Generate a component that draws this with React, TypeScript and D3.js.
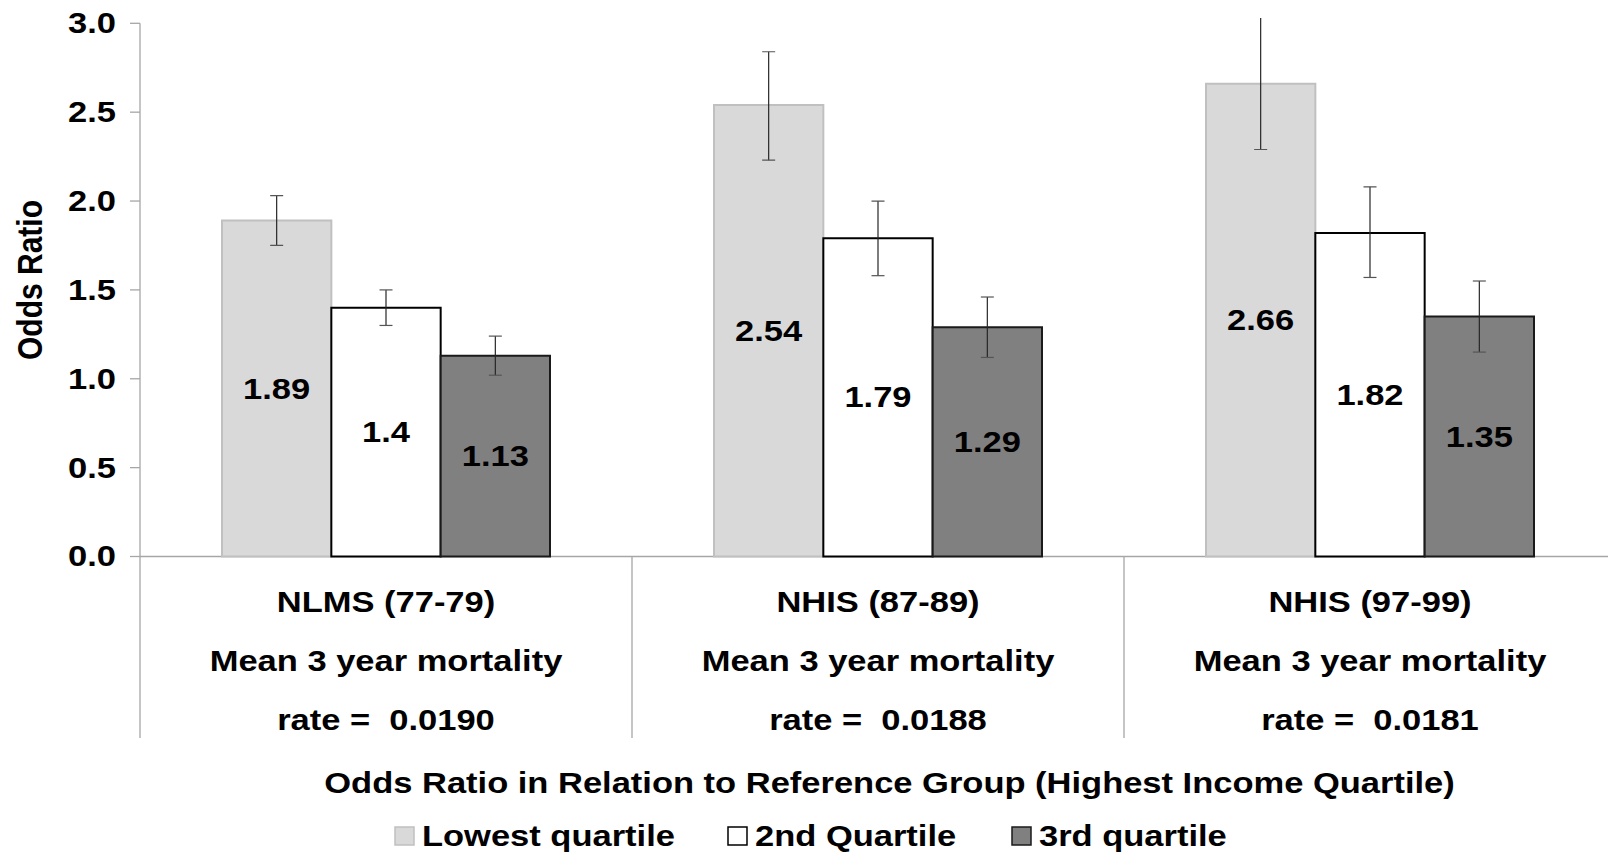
import React from "react";
import * as d3 from "d3";

const categories = ["NLMS (77-79)", "NHIS (87-89)", "NHIS (97-99)"];
const rateLabels = ["rate =  0.0190", "rate =  0.0188", "rate =  0.0181"];
const subLabel = "Mean 3 year mortality";
const seriesNames = ["Lowest quartile", "2nd Quartile", "3rd quartile"];
const lowestValues = [1.89, 2.54, 2.66];
const secondValues = [1.4, 1.79, 1.82];
const thirdValues = [1.13, 1.29, 1.35];
const lowestLo = [1.75, 2.23, 2.29];
const lowestHi = [2.03, 2.84, 3.09];
const secondLo = [1.3, 1.58, 1.57];
const secondHi = [1.5, 2.0, 2.08];
const thirdLo = [1.02, 1.12, 1.15];
const thirdHi = [1.24, 1.46, 1.55];
const yTicks = [0, 0.5, 1, 1.5, 2, 2.5, 3];
const yTitle = "Odds Ratio";
const xTitle = "Odds Ratio in Relation to Reference Group (Highest Income Quartile)";

const fills = ["#d9d9d9", "#ffffff", "#808080"];
const strokes = ["#c0c0c0", "#000000", "#1a1a1a"];

const SX = 1.15;
const W = 1608;
const H = 852;
const FONT = "'Liberation Sans', Arial, sans-serif";
const FS = 30;

export default function App() {
  const vx = (x: number) => x / SX;
  const x0 = vx(140);
  const band = vx(492);
  const yScale = d3.scaleLinear().domain([0, 3]).range([556.5, 23.3]);
  const xOuter = d3.scaleBand<string>().domain(categories).range([x0, x0 + band * 3]).padding(0);
  const xInner = d3.scaleBand<string>().domain(seriesNames).range([0, band]).paddingInner(0).paddingOuter(0.75);

  const series = [
    { name: seriesNames[0], values: lowestValues, lo: lowestLo, hi: lowestHi },
    { name: seriesNames[1], values: secondValues, lo: secondLo, hi: secondHi },
    { name: seriesNames[2], values: thirdValues, lo: thirdLo, hi: thirdHi },
  ];

  const y0 = yScale(0);
  const sepBottom = 738;
  const capHalf = vx(6.5);
  const legendX = [vx(395), vx(728), vx(1012)];

  return (
    <svg width={W} height={H} style={{ display: "block", position: "absolute", left: 0, top: 0 }}>
      <defs>
        <clipPath id="plotclip">
          <rect x={0} y={yScale(3.03)} width={W} height={H} />
        </clipPath>
      </defs>
      <rect x={0} y={0} width={W} height={H} fill="#fff" />
      <g transform={`scale(${SX},1)`} fontFamily={FONT} fontWeight="bold" fontSize={FS} style={{ whiteSpace: "pre" }}>
        {/* y axis */}
        <line x1={x0} x2={x0} y1={yScale(3)} y2={sepBottom} stroke="#a6a6a6" strokeWidth={1.3} vectorEffect="non-scaling-stroke" />
        {yTicks.map((t) => (
          <g key={t}>
            <line x1={x0 - vx(10)} x2={x0} y1={yScale(t)} y2={yScale(t)} stroke="#a6a6a6" strokeWidth={1.3} vectorEffect="non-scaling-stroke" />
            <text x={vx(116)} y={yScale(t) + 10} textAnchor="end" fill="#000">{t.toFixed(1)}</text>
          </g>
        ))}
        {/* x axis */}
        <line x1={x0} x2={x0 + band * 3} y1={y0} y2={y0} stroke="#a6a6a6" strokeWidth={1.3} vectorEffect="non-scaling-stroke" />
        {categories.map((c, i) => (
          <line key={c + i} x1={(xOuter(c) as number) + band} x2={(xOuter(c) as number) + band} y1={y0} y2={sepBottom} stroke="#a6a6a6" strokeWidth={1.3} vectorEffect="non-scaling-stroke" />
        ))}
        {/* bars */}
        {series.map((s, si) =>
          categories.map((c, ci) => {
            const bx = (xOuter(c) as number) + (xInner(s.name) as number);
            const bw = xInner.bandwidth();
            const v = s.values[ci];
            return (
              <rect key={s.name + c} x={bx} y={yScale(v)} width={bw} height={y0 - yScale(v)} fill={fills[si]} stroke={strokes[si]} strokeWidth={2} vectorEffect="non-scaling-stroke" />
            );
          })
        )}
        {/* error bars */}
        <g clipPath="url(#plotclip)">
          {series.map((s, si) =>
            categories.map((c, ci) => {
              const cx = (xOuter(c) as number) + (xInner(s.name) as number) + xInner.bandwidth() / 2;
              const ylo = yScale(s.lo[ci]);
              const yhi = yScale(s.hi[ci]);
              return (
                <g key={"e" + s.name + c} stroke="#262626" strokeWidth={1.2}>
                  <line x1={cx} x2={cx} y1={ylo} y2={yhi} vectorEffect="non-scaling-stroke" />
                  <line x1={cx - capHalf} x2={cx + capHalf} y1={ylo} y2={ylo} stroke="#555" vectorEffect="non-scaling-stroke" />
                  <line x1={cx - capHalf} x2={cx + capHalf} y1={yhi} y2={yhi} stroke="#555" vectorEffect="non-scaling-stroke" />
                </g>
              );
            })
          )}
        </g>
        {/* data labels */}
        {series.map((s, si) =>
          categories.map((c, ci) => {
            const cx = (xOuter(c) as number) + (xInner(s.name) as number) + xInner.bandwidth() / 2;
            const v = s.values[ci];
            return (
              <text key={"l" + s.name + c} x={cx} y={yScale(v / 2) + 10} textAnchor="middle" fill="#000">{String(v)}</text>
            );
          })
        )}
        {/* category labels */}
        {categories.map((c, i) => {
          const cx = (xOuter(c) as number) + band / 2;
          return (
            <g key={"c" + i}>
              <text x={cx} y={612} textAnchor="middle">{c}</text>
              <text x={cx} y={671} textAnchor="middle">{subLabel}</text>
              <text x={cx} y={730} textAnchor="middle" xmlSpace="preserve">{rateLabels[i]}</text>
            </g>
          );
        })}
        {/* axis titles */}
        <text x={vx(889.5)} y={793} textAnchor="middle">{xTitle}</text>
        <text transform={`translate(${vx(41.5)},280) rotate(-90)`} textAnchor="middle">{yTitle}</text>
        {/* legend */}
        {seriesNames.map((n, i) => (
          <g key={"lg" + i}>
            <rect x={legendX[i]} y={827} width={vx(19)} height={18} fill={fills[i]} stroke={strokes[i]} strokeWidth={1.5} vectorEffect="non-scaling-stroke" />
            <text x={legendX[i] + vx(27)} y={846}>{n}</text>
          </g>
        ))}
      </g>
    </svg>
  );
}
